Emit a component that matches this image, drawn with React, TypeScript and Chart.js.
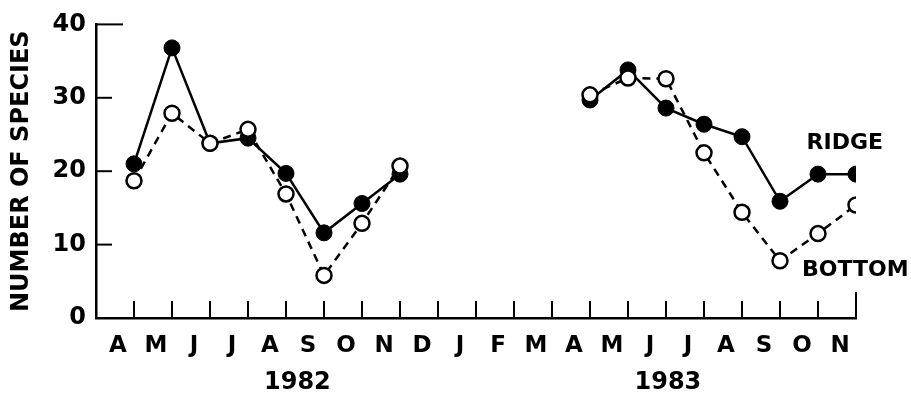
import React, { useEffect, useRef } from "react";
import { Chart, registerables } from "chart.js";

Chart.register(...registerables);

const months = ["A", "M", "J", "J", "A", "S", "O", "N", "D", "J", "F", "M", "A", "M", "J", "J", "A", "S", "O", "N"];
const ridge = [21, 36.8, 23.8, 24.5, 19.7, 11.6, 15.6, 19.6, null, null, null, null, 29.7, 33.8, 28.6, 26.4, 24.7, 15.9, 19.6, 19.6];
const bottom = [18.7, 27.9, 23.8, 25.7, 16.9, 5.8, 12.9, 20.7, null, null, null, null, 30.4, 32.7, 32.6, 22.5, 14.4, 7.8, 11.5, 15.4];
const yTickValues = [0, 10, 20, 30, 40];
const years = ["1982", "1983"];
const yearAt = [4.3, 14.05];
const seriesNames = ["RIDGE", "BOTTOM"];
const seriesNameAt = [
  [17.7, 23.8],
  [17.58, 6.5],
];

const FONT = '"DejaVu Sans", sans-serif';

const decorPlugin = {
  id: "decor",
  afterDraw(chart: any) {
    const { ctx, chartArea, scales } = chart;
    const x = scales.x;
    const y = scales.y;
    ctx.save();
    ctx.strokeStyle = "#000";
    ctx.lineWidth = 2;
    ctx.lineCap = "butt";
    months.forEach((_, i) => {
      const px = x.getPixelForValue(i);
      const len = i === months.length - 1 ? 26 : 17;
      ctx.beginPath();
      ctx.moveTo(px, chartArea.bottom);
      ctx.lineTo(px, chartArea.bottom - len);
      ctx.stroke();
    });
    yTickValues.forEach((v) => {
      const py = y.getPixelForValue(v);
      const len = v === 40 ? 27 : 16;
      ctx.beginPath();
      ctx.moveTo(chartArea.left, py);
      ctx.lineTo(chartArea.left + len, py);
      ctx.stroke();
    });
    ctx.fillStyle = "#000";
    ctx.font = `bold 24px ${FONT}`;
    ctx.textAlign = "center";
    ctx.textBaseline = "middle";
    years.forEach((t, i) => {
      ctx.fillText(t, x.getPixelForValue(yearAt[i]), 383);
    });
    ctx.font = `bold 22px ${FONT}`;
    ctx.textAlign = "left";
    seriesNames.forEach((t, i) => {
      ctx.fillText(t, x.getPixelForValue(seriesNameAt[i][0]), y.getPixelForValue(seriesNameAt[i][1]));
    });
    ctx.restore();
  },
};

export default function App() {
  const ref = useRef<HTMLCanvasElement>(null);
  useEffect(() => {
    const canvas = ref.current;
    if (!canvas) return;
    const chart = new Chart(canvas, {
      type: "line",
      data: {
        datasets: [
          {
            label: "BOTTOM",
            data: bottom.map((v, i) => ({ x: i, y: v })) as any,
            borderColor: "#000",
            borderWidth: 2.5,
            borderDash: [8, 6],
            pointRadius: 7.5,
            pointBackgroundColor: "#fff",
            pointBorderColor: "#000",
            pointBorderWidth: 2.5,
            spanGaps: false,
            tension: 0,
          },
          {
            label: "RIDGE",
            data: ridge.map((v, i) => ({ x: i, y: v })) as any,
            borderColor: "#000",
            borderWidth: 2.5,
            pointRadius: 8,
            pointBackgroundColor: "#000",
            pointBorderColor: "#000",
            pointBorderWidth: 1,
            spanGaps: false,
            tension: 0,
          },
        ],
      },
      options: {
        responsive: false,
        animation: false,
        layout: { padding: { left: 0, top: 15, right: 55, bottom: 0 } },
        plugins: { legend: { display: false }, tooltip: { enabled: false } },
        scales: {
          x: {
            type: "linear",
            min: -1,
            max: 19,
            afterBuildTicks: (scale: any) => {
              scale.ticks = months.map((_, i) => ({ value: i }));
            },
            afterFit: (scale: any) => {
              scale.height = 81;
            },
            grid: { display: false, drawTicks: false },
            border: { display: true, color: "#000", width: 2.5 },
            ticks: {
              autoSkip: false,
              maxRotation: 0,
              labelOffset: -16,
              padding: 14,
              color: "#000",
              font: { family: FONT, size: 23, weight: "bold" },
              callback: (v: any) => months[v] ?? "",
            },
          },
          y: {
            min: 0,
            max: 40,
            afterFit: (scale: any) => {
              scale.width = 96;
            },
            grid: { display: false, drawTicks: false },
            border: { display: true, color: "#000", width: 2.5 },
            ticks: {
              stepSize: 10,
              padding: 10,
              color: "#000",
              font: { family: FONT, size: 24, weight: "bold" },
            },
            title: {
              display: true,
              text: "NUMBER OF SPECIES",
              color: "#000",
              padding: { top: 7, bottom: 0 },
              font: { family: FONT, size: 24, weight: "bold" },
            },
          },
        },
      },
      plugins: [decorPlugin],
    });
    return () => chart.destroy();
  }, []);
  return (
    <div style={{ position: "absolute", left: 0, top: 0, width: 911, height: 399, background: "#fff" }}>
      <canvas ref={ref} width={911} height={399} />
    </div>
  );
}
